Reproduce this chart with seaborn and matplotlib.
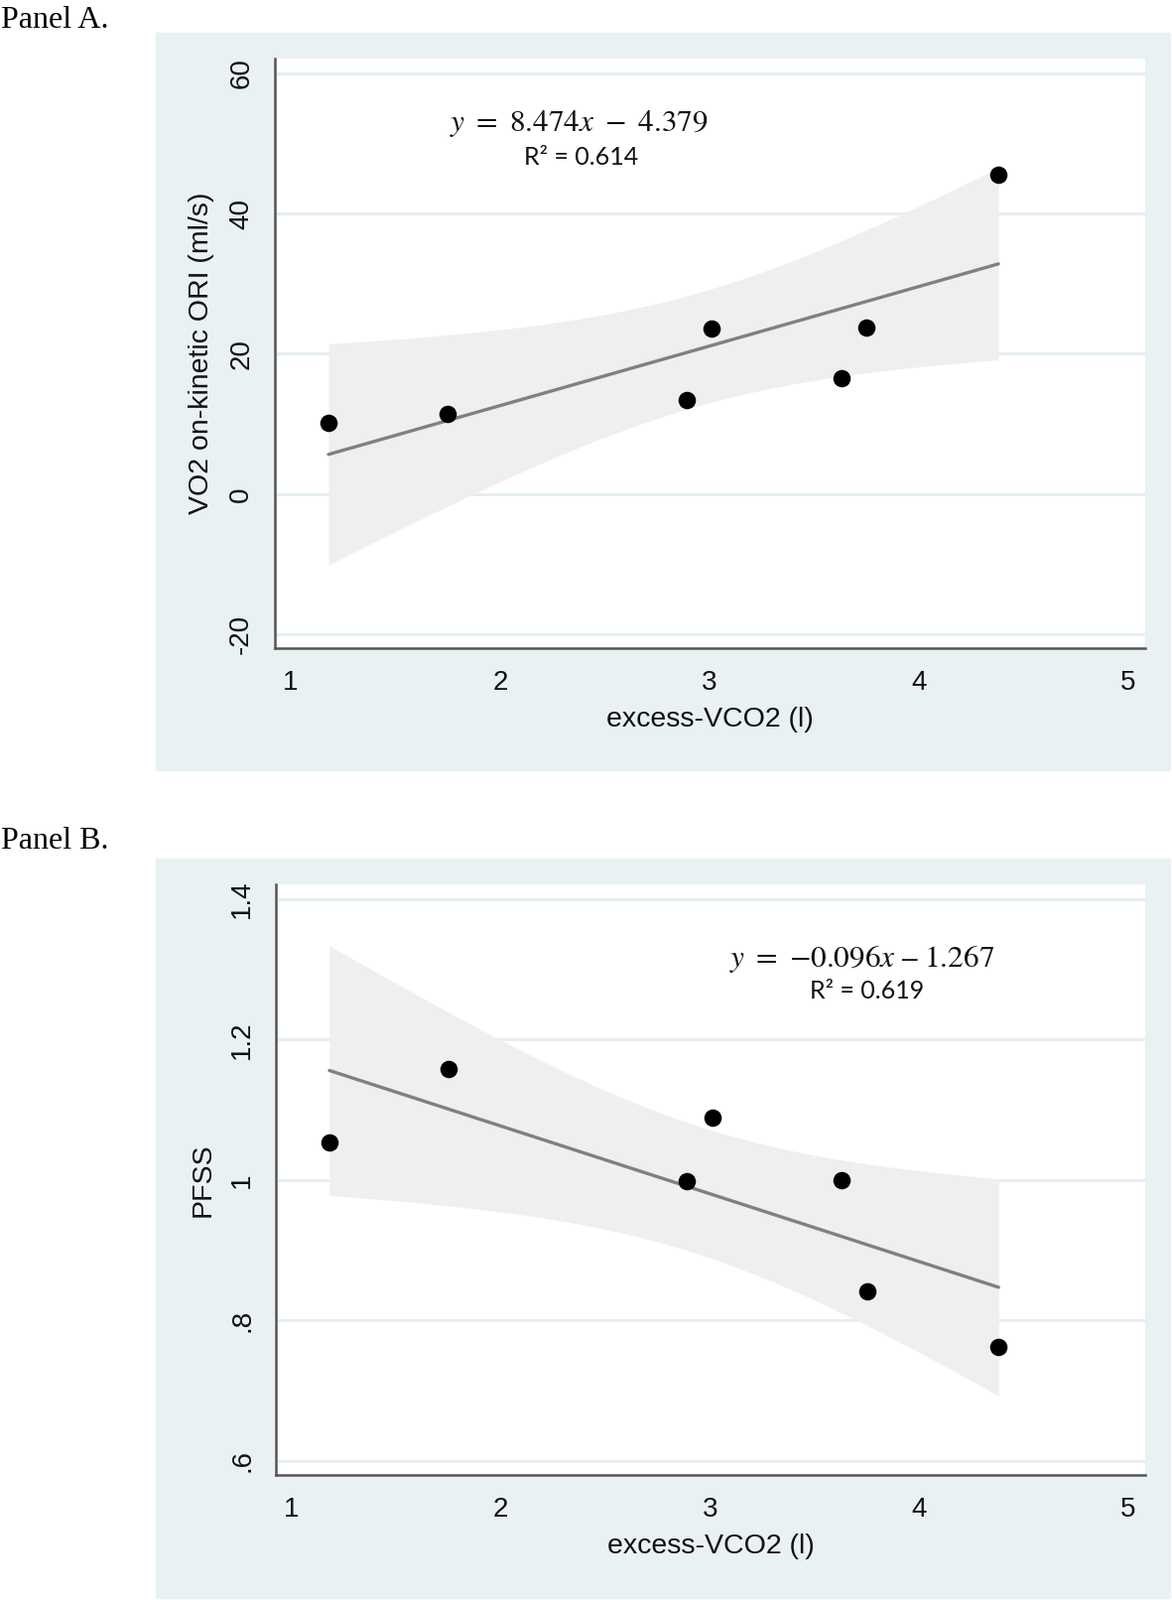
import numpy as np
import pandas as pd
import seaborn as sns
import matplotlib.pyplot as plt
from matplotlib.patches import Rectangle

# excess-VCO2 (l) for the seven subjects
excess_vco2 = [1.18, 1.75, 2.89, 3.01, 3.63, 3.75, 4.38]
# Panel A: VO2 on-kinetic ORI (ml/s)
vo2_ori = [10.1, 11.4, 13.4, 23.6, 16.5, 23.8, 45.5]
# Panel B: PFSS
pfss = [1.053, 1.158, 0.998, 1.089, 1.0, 0.842, 0.762]

a_yticks = [-20, 0, 20, 40, 60]
a_yticklabels = ["-20", "0", "20", "40", "60"]
b_yticks = [0.6, 0.8, 1.0, 1.2, 1.4]
b_yticklabels = [".6", ".8", "1", "1.2", "1.4"]
xticks = [1, 2, 3, 4, 5]

a_eq = r"$y\ =\ 8.474x\ -\ 4.379$"
a_r2 = "R² = 0.614"
b_eq = r"$y\ =\ {-}0.096x\ \text{–}\ 1.267$"
b_r2 = "R² = 0.619"

T975_DF5 = 2.5706  # t quantile, 95% CI with n-2 = 5 df

bg_color = "#e9f1f3"
grid_color = "#e4eef1"
ci_color = "#efefef"
line_color = "#808080"
spine_color = "#555555"
text_color = "#111111"

sns.set_style("white")
plt.rcParams['font.family'] = ['Liberation Sans', 'DejaVu Sans']
plt.rcParams['mathtext.fontset'] = 'stix'

W, H = 1181, 1612
fig = plt.figure(figsize=(W / 100, H / 100), dpi=100)


def px_rect(left, top, right, bottom):
    return [left / W, 1 - bottom / H, (right - left) / W, (bottom - top) / H]


def draw_panel(ax, y, yticks, yticklabels, ylim, ylabel, eq, r2, eq_pos, r2_pos):
    df = pd.DataFrame({"x": excess_vco2, "y": y})
    x = df["x"].to_numpy()
    yy = df["y"].to_numpy()
    n = len(x)
    slope, intercept = np.polyfit(x, yy, 1)
    resid = yy - (slope * x + intercept)
    s = np.sqrt(np.sum(resid ** 2) / (n - 2))
    xg = np.linspace(x.min(), x.max(), 200)
    fit = slope * xg + intercept
    se = s * np.sqrt(1 / n + (xg - x.mean()) ** 2 / np.sum((x - x.mean()) ** 2))

    ax.set_facecolor("white")
    for t in yticks:
        ax.axhline(t, color=grid_color, lw=2.0, zorder=0)
    ax.fill_between(xg, fit - T975_DF5 * se, fit + T975_DF5 * se,
                    color=ci_color, lw=0, zorder=1)
    sns.regplot(data=df, x="x", y="y", ax=ax, scatter=False, ci=None,
                line_kws=dict(color=line_color, lw=2.4, zorder=2))
    sns.scatterplot(data=df, x="x", y="y", ax=ax, color="black", s=160,
                    edgecolor="black", linewidth=0, zorder=3)

    ax.set_xlim(0.924, 5.081)
    ax.set_ylim(*ylim)
    ax.set_xticks(xticks)
    ax.set_xticklabels([str(v) for v in xticks])
    ax.set_yticks(yticks)
    ax.set_yticklabels(yticklabels, rotation=90, va="center")
    ax.tick_params(axis="both", labelsize=20, length=10, width=1.6,
                   color=spine_color, direction="out", labelcolor=text_color)
    ax.tick_params(axis="x", pad=6)
    ax.tick_params(axis="y", pad=5)
    for side in ["top", "right"]:
        ax.spines[side].set_visible(False)
    for side in ["left", "bottom"]:
        ax.spines[side].set_color(spine_color)
        ax.spines[side].set_linewidth(1.8)
    ax.set_xlabel("excess-VCO2 (l)", fontsize=20.5, labelpad=8, color=text_color)
    ax.set_ylabel(ylabel, fontsize=20.5, labelpad=10, color=text_color)

    ax.text(eq_pos[0], eq_pos[1], eq, transform=fig.transFigure, fontsize=22.5,
            ha="center", va="center", color=text_color)
    ax.text(r2_pos[0], r2_pos[1], r2, transform=fig.transFigure, fontsize=18,
            family=["Lato", "DejaVu Sans"], ha="center", va="center",
            color=text_color)


# grey graph regions, kept behind the axes
fig.patches.append(Rectangle((157 / W, 1 - 776 / H), (1179 - 157) / W, (776 - 33) / H,
                             transform=fig.transFigure, color=bg_color, zorder=-10))
fig.patches.append(Rectangle((157 / W, 1 - 1610 / H), (1179 - 157) / W, (1610 - 865) / H,
                             transform=fig.transFigure, color=bg_color, zorder=-10))

fig.text(1 / W, 1 - 28 / H, "Panel A.", family=["Liberation Serif"], fontsize=23,
         ha="left", va="baseline", color="black")
fig.text(1 / W, 1 - 855 / H, "Panel B.", family=["Liberation Serif"], fontsize=23,
         ha="left", va="baseline", color="black")

ax_a = fig.add_axes(px_rect(277, 59, 1154, 653))
draw_panel(ax_a, vo2_ori, a_yticks, a_yticklabels, (-21.98, 62.12),
           "VO2 on-kinetic ORI (ml/s)", a_eq, a_r2,
           (583 / W, 1 - 125 / H), (586 / W, 1 - 159 / H))

ax_b = fig.add_axes(px_rect(278, 891, 1154, 1486))
draw_panel(ax_b, pfss, b_yticks, b_yticklabels, (0.580, 1.421),
           "PFSS", b_eq, b_r2,
           (869 / W, 1 - 966 / H), (874 / W, 1 - 998 / H))

fig.savefig("out.png", dpi=100)
